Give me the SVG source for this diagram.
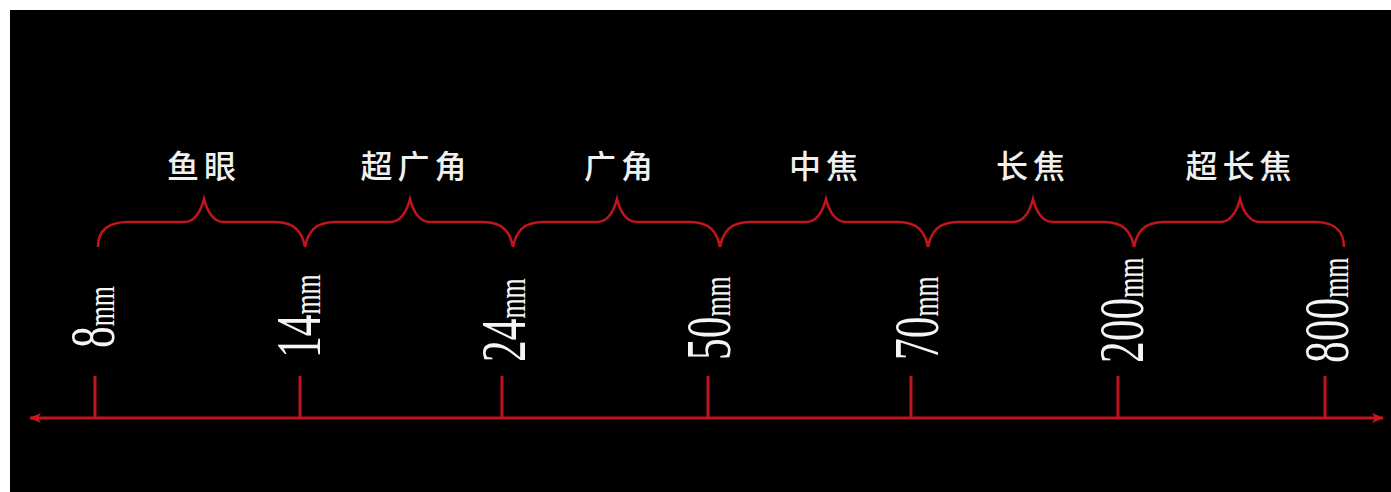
<svg xmlns="http://www.w3.org/2000/svg" width="1391" height="492" viewBox="0 0 1391 492">
<style>
.red{stroke:#c0141e;fill:none;stroke-width:3}
.brace{stroke:#c0141e;fill:none;stroke-width:2.6;stroke-linejoin:miter}
.cn{font-family:"Noto Sans CJK SC","Noto Sans",sans-serif;font-size:32px;font-weight:500;fill:#f0f0f0;text-anchor:middle;letter-spacing:5px}
.num{font-family:"Liberation Serif","DejaVu Serif",serif;font-size:64px;fill:#f5f5f5}
.mm{font-size:38px}
</style>
<defs>
<marker id="ah" viewBox="0 0 12 10" refX="11" refY="5" markerWidth="12" markerHeight="10" markerUnits="userSpaceOnUse" orient="auto-start-reverse">
<path d="M0,0 L12,5 L0,10 L3,5 Z" fill="#d0141e"/>
</marker>
</defs>
<rect x="0" y="0" width="1391" height="492" fill="#ffffff"/>
<rect x="10" y="10" width="1381" height="482" fill="#000000"/>
<g id="connectors">
<line class="red" x1="30" y1="418" x2="1383" y2="418" marker-start="url(#ah)" marker-end="url(#ah)"/>
<line class="red" x1="95" y1="376" x2="95" y2="418"/>
<line class="red" x1="300" y1="376" x2="300" y2="418"/>
<line class="red" x1="502" y1="376" x2="502" y2="418"/>
<line class="red" x1="708" y1="376" x2="708" y2="418"/>
<line class="red" x1="911" y1="376" x2="911" y2="418"/>
<line class="red" x1="1118" y1="376" x2="1118" y2="418"/>
<line class="red" x1="1325" y1="376" x2="1325" y2="418"/>
</g>
<g id="brace-fisheye">
<path class="brace" d="M98,247 C98,230 108,222 128,222 L184,222 C194,222 200,214 204,199 C208,214 214,222 224,222 L275,222 C295,222 302,232 305,247"/>
<text class="cn" x="204" y="178">鱼眼</text>
</g>
<g id="brace-ultrawide">
<path class="brace" d="M305,247 C308,232 315,222 335,222 L390,222 C400,222 406,214 410,199 C414,214 420,222 430,222 L483,222 C503,222 510,232 513,247"/>
<text class="cn" x="416" y="178">超广角</text>
</g>
<g id="brace-wide">
<path class="brace" d="M513,247 C516,232 523,222 543,222 L597,222 C607,222 613,214 617,199 C621,214 627,222 637,222 L690,222 C710,222 717,232 720,247"/>
<text class="cn" x="621" y="178">广角</text>
</g>
<g id="brace-standard">
<path class="brace" d="M720,247 C723,232 730,222 750,222 L806,222 C816,222 822,214 826,199 C830,214 836,222 846,222 L898,222 C918,222 925,232 928,247"/>
<text class="cn" x="826" y="178">中焦</text>
</g>
<g id="brace-tele">
<path class="brace" d="M928,247 C931,232 938,222 958,222 L1013,222 C1023,222 1029,214 1033,199 C1037,214 1043,222 1053,222 L1104,222 C1124,222 1131,232 1134,247"/>
<text class="cn" x="1033" y="178">长焦</text>
</g>
<g id="brace-supertele">
<path class="brace" d="M1134,247 C1137,232 1144,222 1164,222 L1220,222 C1230,222 1236,214 1240,199 C1244,214 1250,222 1260,222 L1315,222 C1335,222 1344,232 1344,247"/>
<text class="cn" x="1241" y="178">超长焦</text>
</g>
<g id="label-8mm"><text class="num" transform="translate(114,348) rotate(-90) scale(0.68,1)">8<tspan class="mm">mm</tspan></text></g>
<g id="label-14mm"><text class="num" transform="translate(320,358) rotate(-90) scale(0.68,1)">14<tspan class="mm">mm</tspan></text></g>
<g id="label-24mm"><text class="num" transform="translate(525,362) rotate(-90) scale(0.68,1)">24<tspan class="mm">mm</tspan></text></g>
<g id="label-50mm"><text class="num" transform="translate(730,360) rotate(-90) scale(0.68,1)">50<tspan class="mm">mm</tspan></text></g>
<g id="label-70mm"><text class="num" transform="translate(938,360) rotate(-90) scale(0.68,1)">70<tspan class="mm">mm</tspan></text></g>
<g id="label-200mm"><text class="num" transform="translate(1143,363) rotate(-90) scale(0.68,1)">200<tspan class="mm">mm</tspan></text></g>
<g id="label-800mm"><text class="num" transform="translate(1348,363) rotate(-90) scale(0.68,1)">800<tspan class="mm">mm</tspan></text></g>
</svg>
